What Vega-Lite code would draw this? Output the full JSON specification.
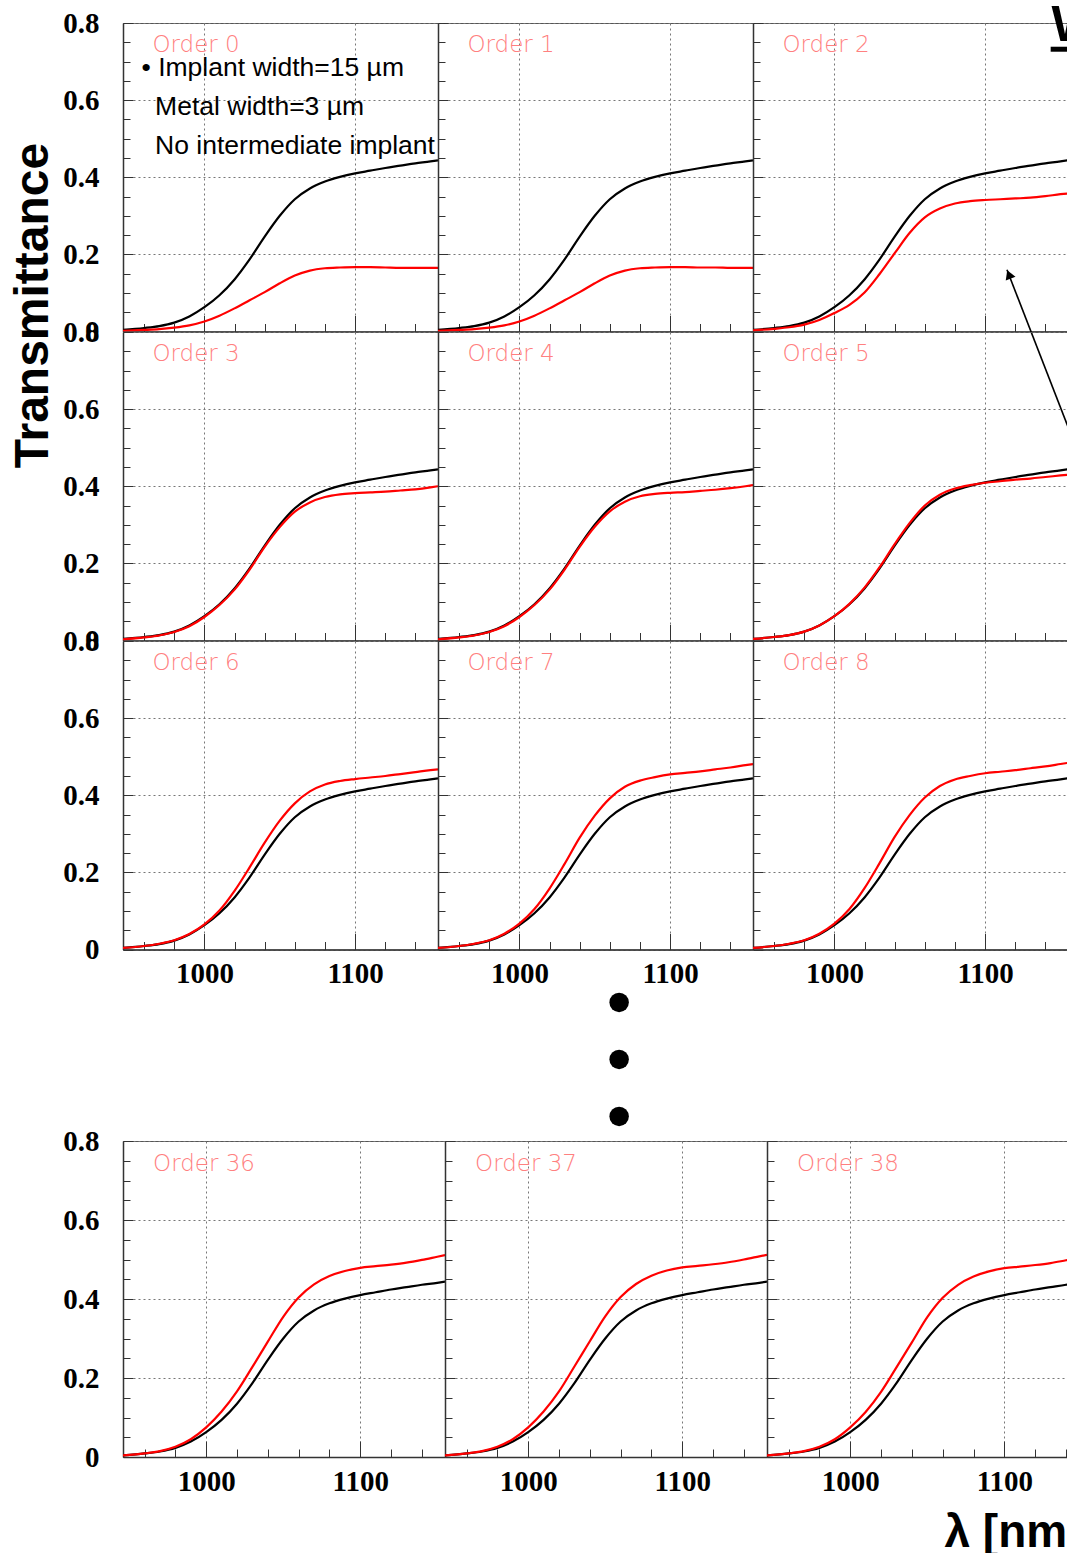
{
"$schema": "https://vega.github.io/schema/vega-lite/v6.json",
"background": "white",
"padding": {"left": 8, "top": 0, "right": 0, "bottom": 0},
"datasets": {
"ref": [{"wl":946,"t":0.004},{"wl":960,"t":0.009},{"wl":970,"t":0.014},{"wl":980,"t":0.023},{"wl":990,"t":0.039},{"wl":1000,"t":0.063},{"wl":1010,"t":0.094},{"wl":1020,"t":0.135},{"wl":1030,"t":0.187},{"wl":1040,"t":0.246},{"wl":1050,"t":0.300},{"wl":1060,"t":0.343},{"wl":1070,"t":0.371},{"wl":1080,"t":0.389},{"wl":1090,"t":0.401},{"wl":1100,"t":0.410},{"wl":1110,"t":0.417},{"wl":1120,"t":0.424},{"wl":1130,"t":0.430},{"wl":1140,"t":0.436},{"wl":1150,"t":0.441},{"wl":1155,"t":0.444}],
"sim": [
{"order":0,"wl":946,"t":0.002},{"order":0,"wl":960,"t":0.004},{"order":0,"wl":970,"t":0.006},{"order":0,"wl":980,"t":0.010},{"order":0,"wl":990,"t":0.016},{"order":0,"wl":1000,"t":0.026},{"order":0,"wl":1010,"t":0.041},{"order":0,"wl":1020,"t":0.060},{"order":0,"wl":1030,"t":0.081},{"order":0,"wl":1040,"t":0.102},{"order":0,"wl":1050,"t":0.125},{"order":0,"wl":1060,"t":0.145},{"order":0,"wl":1070,"t":0.158},{"order":0,"wl":1080,"t":0.164},{"order":0,"wl":1090,"t":0.166},{"order":0,"wl":1100,"t":0.167},{"order":0,"wl":1110,"t":0.167},{"order":0,"wl":1120,"t":0.166},{"order":0,"wl":1130,"t":0.165},{"order":0,"wl":1140,"t":0.165},{"order":0,"wl":1150,"t":0.165},{"order":0,"wl":1155,"t":0.165},
{"order":1,"wl":946,"t":0.002},{"order":1,"wl":960,"t":0.004},{"order":1,"wl":970,"t":0.006},{"order":1,"wl":980,"t":0.010},{"order":1,"wl":990,"t":0.016},{"order":1,"wl":1000,"t":0.026},{"order":1,"wl":1010,"t":0.041},{"order":1,"wl":1020,"t":0.060},{"order":1,"wl":1030,"t":0.081},{"order":1,"wl":1040,"t":0.102},{"order":1,"wl":1050,"t":0.125},{"order":1,"wl":1060,"t":0.145},{"order":1,"wl":1070,"t":0.158},{"order":1,"wl":1080,"t":0.164},{"order":1,"wl":1090,"t":0.166},{"order":1,"wl":1100,"t":0.167},{"order":1,"wl":1110,"t":0.167},{"order":1,"wl":1120,"t":0.166},{"order":1,"wl":1130,"t":0.166},{"order":1,"wl":1140,"t":0.165},{"order":1,"wl":1150,"t":0.165},{"order":1,"wl":1155,"t":0.165},
{"order":2,"wl":946,"t":0.003},{"order":2,"wl":960,"t":0.007},{"order":2,"wl":970,"t":0.011},{"order":2,"wl":980,"t":0.018},{"order":2,"wl":990,"t":0.030},{"order":2,"wl":1000,"t":0.048},{"order":2,"wl":1010,"t":0.069},{"order":2,"wl":1020,"t":0.101},{"order":2,"wl":1030,"t":0.149},{"order":2,"wl":1040,"t":0.203},{"order":2,"wl":1050,"t":0.256},{"order":2,"wl":1060,"t":0.296},{"order":2,"wl":1070,"t":0.319},{"order":2,"wl":1080,"t":0.332},{"order":2,"wl":1090,"t":0.338},{"order":2,"wl":1100,"t":0.341},{"order":2,"wl":1110,"t":0.343},{"order":2,"wl":1120,"t":0.345},{"order":2,"wl":1130,"t":0.347},{"order":2,"wl":1140,"t":0.351},{"order":2,"wl":1150,"t":0.356},{"order":2,"wl":1155,"t":0.358},
{"order":3,"wl":946,"t":0.003},{"order":3,"wl":960,"t":0.008},{"order":3,"wl":970,"t":0.013},{"order":3,"wl":980,"t":0.022},{"order":3,"wl":990,"t":0.037},{"order":3,"wl":1000,"t":0.061},{"order":3,"wl":1010,"t":0.092},{"order":3,"wl":1020,"t":0.132},{"order":3,"wl":1030,"t":0.184},{"order":3,"wl":1040,"t":0.243},{"order":3,"wl":1050,"t":0.294},{"order":3,"wl":1060,"t":0.334},{"order":3,"wl":1070,"t":0.358},{"order":3,"wl":1080,"t":0.372},{"order":3,"wl":1090,"t":0.379},{"order":3,"wl":1100,"t":0.382},{"order":3,"wl":1110,"t":0.384},{"order":3,"wl":1120,"t":0.386},{"order":3,"wl":1130,"t":0.389},{"order":3,"wl":1140,"t":0.392},{"order":3,"wl":1150,"t":0.397},{"order":3,"wl":1155,"t":0.400},
{"order":4,"wl":946,"t":0.003},{"order":4,"wl":960,"t":0.008},{"order":4,"wl":970,"t":0.013},{"order":4,"wl":980,"t":0.022},{"order":4,"wl":990,"t":0.037},{"order":4,"wl":1000,"t":0.061},{"order":4,"wl":1010,"t":0.092},{"order":4,"wl":1020,"t":0.132},{"order":4,"wl":1030,"t":0.184},{"order":4,"wl":1040,"t":0.243},{"order":4,"wl":1050,"t":0.295},{"order":4,"wl":1060,"t":0.335},{"order":4,"wl":1070,"t":0.360},{"order":4,"wl":1080,"t":0.374},{"order":4,"wl":1090,"t":0.380},{"order":4,"wl":1100,"t":0.383},{"order":4,"wl":1110,"t":0.385},{"order":4,"wl":1120,"t":0.388},{"order":4,"wl":1130,"t":0.391},{"order":4,"wl":1140,"t":0.395},{"order":4,"wl":1150,"t":0.400},{"order":4,"wl":1155,"t":0.403},
{"order":5,"wl":946,"t":0.004},{"order":5,"wl":960,"t":0.009},{"order":5,"wl":970,"t":0.014},{"order":5,"wl":980,"t":0.023},{"order":5,"wl":990,"t":0.039},{"order":5,"wl":1000,"t":0.063},{"order":5,"wl":1010,"t":0.095},{"order":5,"wl":1020,"t":0.137},{"order":5,"wl":1030,"t":0.190},{"order":5,"wl":1040,"t":0.250},{"order":5,"wl":1050,"t":0.305},{"order":5,"wl":1060,"t":0.350},{"order":5,"wl":1070,"t":0.378},{"order":5,"wl":1080,"t":0.394},{"order":5,"wl":1090,"t":0.403},{"order":5,"wl":1100,"t":0.409},{"order":5,"wl":1110,"t":0.413},{"order":5,"wl":1120,"t":0.417},{"order":5,"wl":1130,"t":0.420},{"order":5,"wl":1140,"t":0.424},{"order":5,"wl":1150,"t":0.428},{"order":5,"wl":1155,"t":0.430},
{"order":6,"wl":946,"t":0.004},{"order":6,"wl":960,"t":0.009},{"order":6,"wl":970,"t":0.015},{"order":6,"wl":980,"t":0.024},{"order":6,"wl":990,"t":0.040},{"order":6,"wl":1000,"t":0.065},{"order":6,"wl":1010,"t":0.101},{"order":6,"wl":1020,"t":0.152},{"order":6,"wl":1030,"t":0.213},{"order":6,"wl":1040,"t":0.277},{"order":6,"wl":1050,"t":0.334},{"order":6,"wl":1060,"t":0.379},{"order":6,"wl":1070,"t":0.410},{"order":6,"wl":1080,"t":0.428},{"order":6,"wl":1090,"t":0.437},{"order":6,"wl":1100,"t":0.442},{"order":6,"wl":1110,"t":0.446},{"order":6,"wl":1120,"t":0.450},{"order":6,"wl":1130,"t":0.455},{"order":6,"wl":1140,"t":0.460},{"order":6,"wl":1150,"t":0.465},{"order":6,"wl":1155,"t":0.467},
{"order":7,"wl":946,"t":0.004},{"order":7,"wl":960,"t":0.009},{"order":7,"wl":970,"t":0.015},{"order":7,"wl":980,"t":0.024},{"order":7,"wl":990,"t":0.041},{"order":7,"wl":1000,"t":0.067},{"order":7,"wl":1010,"t":0.105},{"order":7,"wl":1020,"t":0.158},{"order":7,"wl":1030,"t":0.222},{"order":7,"wl":1040,"t":0.290},{"order":7,"wl":1050,"t":0.347},{"order":7,"wl":1060,"t":0.392},{"order":7,"wl":1070,"t":0.422},{"order":7,"wl":1080,"t":0.438},{"order":7,"wl":1090,"t":0.447},{"order":7,"wl":1100,"t":0.454},{"order":7,"wl":1110,"t":0.458},{"order":7,"wl":1120,"t":0.462},{"order":7,"wl":1130,"t":0.467},{"order":7,"wl":1140,"t":0.472},{"order":7,"wl":1150,"t":0.478},{"order":7,"wl":1155,"t":0.481},
{"order":8,"wl":946,"t":0.004},{"order":8,"wl":960,"t":0.009},{"order":8,"wl":970,"t":0.015},{"order":8,"wl":980,"t":0.024},{"order":8,"wl":990,"t":0.041},{"order":8,"wl":1000,"t":0.067},{"order":8,"wl":1010,"t":0.105},{"order":8,"wl":1020,"t":0.159},{"order":8,"wl":1030,"t":0.224},{"order":8,"wl":1040,"t":0.292},{"order":8,"wl":1050,"t":0.349},{"order":8,"wl":1060,"t":0.394},{"order":8,"wl":1070,"t":0.424},{"order":8,"wl":1080,"t":0.441},{"order":8,"wl":1090,"t":0.450},{"order":8,"wl":1100,"t":0.457},{"order":8,"wl":1110,"t":0.461},{"order":8,"wl":1120,"t":0.465},{"order":8,"wl":1130,"t":0.470},{"order":8,"wl":1140,"t":0.475},{"order":8,"wl":1150,"t":0.481},{"order":8,"wl":1155,"t":0.484},
{"order":36,"wl":946,"t":0.004},{"order":36,"wl":960,"t":0.009},{"order":36,"wl":970,"t":0.015},{"order":36,"wl":980,"t":0.026},{"order":36,"wl":990,"t":0.045},{"order":36,"wl":1000,"t":0.075},{"order":36,"wl":1010,"t":0.115},{"order":36,"wl":1020,"t":0.166},{"order":36,"wl":1030,"t":0.228},{"order":36,"wl":1040,"t":0.292},{"order":36,"wl":1050,"t":0.355},{"order":36,"wl":1060,"t":0.404},{"order":36,"wl":1070,"t":0.437},{"order":36,"wl":1080,"t":0.458},{"order":36,"wl":1090,"t":0.471},{"order":36,"wl":1100,"t":0.479},{"order":36,"wl":1110,"t":0.483},{"order":36,"wl":1120,"t":0.487},{"order":36,"wl":1130,"t":0.492},{"order":36,"wl":1140,"t":0.499},{"order":36,"wl":1150,"t":0.507},{"order":36,"wl":1155,"t":0.511},
{"order":37,"wl":946,"t":0.004},{"order":37,"wl":960,"t":0.009},{"order":37,"wl":970,"t":0.015},{"order":37,"wl":980,"t":0.026},{"order":37,"wl":990,"t":0.045},{"order":37,"wl":1000,"t":0.075},{"order":37,"wl":1010,"t":0.115},{"order":37,"wl":1020,"t":0.166},{"order":37,"wl":1030,"t":0.229},{"order":37,"wl":1040,"t":0.293},{"order":37,"wl":1050,"t":0.356},{"order":37,"wl":1060,"t":0.405},{"order":37,"wl":1070,"t":0.438},{"order":37,"wl":1080,"t":0.459},{"order":37,"wl":1090,"t":0.472},{"order":37,"wl":1100,"t":0.480},{"order":37,"wl":1110,"t":0.484},{"order":37,"wl":1120,"t":0.488},{"order":37,"wl":1130,"t":0.493},{"order":37,"wl":1140,"t":0.500},{"order":37,"wl":1150,"t":0.508},{"order":37,"wl":1155,"t":0.512},
{"order":38,"wl":946,"t":0.004},{"order":38,"wl":960,"t":0.009},{"order":38,"wl":970,"t":0.015},{"order":38,"wl":980,"t":0.026},{"order":38,"wl":990,"t":0.045},{"order":38,"wl":1000,"t":0.075},{"order":38,"wl":1010,"t":0.114},{"order":38,"wl":1020,"t":0.165},{"order":38,"wl":1030,"t":0.227},{"order":38,"wl":1040,"t":0.290},{"order":38,"wl":1050,"t":0.354},{"order":38,"wl":1060,"t":0.403},{"order":38,"wl":1070,"t":0.436},{"order":38,"wl":1080,"t":0.457},{"order":38,"wl":1090,"t":0.470},{"order":38,"wl":1100,"t":0.478},{"order":38,"wl":1110,"t":0.482},{"order":38,"wl":1120,"t":0.486},{"order":38,"wl":1130,"t":0.491},{"order":38,"wl":1140,"t":0.498},{"order":38,"wl":1150,"t":0.505},{"order":38,"wl":1155,"t":0.509}
],
"labels": [{"order":0,"label":"Order 0"},{"order":1,"label":"Order 1"},{"order":2,"label":"Order 2"},{"order":3,"label":"Order 3"},{"order":4,"label":"Order 4"},{"order":5,"label":"Order 5"},{"order":6,"label":"Order 6"},{"order":7,"label":"Order 7"},{"order":8,"label":"Order 8"},{"order":36,"label":"Order 36"},{"order":37,"label":"Order 37"},{"order":38,"label":"Order 38"}]
},
"bounds": "flush",
"spacing": 1118,
"vconcat": [
{"columns": 3, "bounds": "flush", "spacing": 0,
 "concat": [
{"width":315,"height":308.5,"resolve":{"axis":{"x":"independent","y":"independent"}},"layer":[
  {"data":{"name":"ref"},"mark":{"type":"line","color":"#000","strokeWidth":2.2,"interpolate":"monotone","clip":true},
   "encoding":{"x":{"field":"wl","type":"quantitative","scale":{"domain":[946,1155],"nice":false,"zero":false},"axis":{"values":[960,980,1000,1020,1040,1060,1080,1100,1120,1140],"labels":false,"tickSize":{"condition":{"test":"datum.value % 100 == 0","value":-16},"value":-8},"grid":true,"gridOpacity":{"condition":{"test":"datum.value % 100 == 0","value":1},"value":0},"title":null}},
    "y":{"field":"t","type":"quantitative","scale":{"domain":[0,0.8],"nice":false},"axis":{"values":[0,0.05,0.1,0.15,0.2,0.25,0.3,0.35,0.4,0.45,0.5,0.55,0.6,0.65,0.7,0.75,0.8],"labelExpr":"round(datum.value*100) % 20 == 0 ? format(datum.value, '.1~f') : ''","tickSize":{"condition":{"test":"round(datum.value*100) % 20 == 0","value":-10},"value":-7},"grid":true,"gridOpacity":{"condition":{"test":"round(datum.value*100) % 20 == 0","value":1},"value":0},"labelPadding":34,"title":"Transmittance","titleFont":"Liberation Sans","titleFontWeight":"bold","titleFontSize":48,"titleColor":"#000","titleX":-76,"titleY":282,"titleAngle":-90,"titleAlign":"center","titleBaseline":"alphabetic"}}}},
  {"data":{"name":"sim"},"transform":[{"filter":"datum.order == 0"}],"mark":{"type":"line","color":"#ff0000","strokeWidth":2.2,"interpolate":"monotone","clip":true},"encoding":{"x":{"field":"wl","type":"quantitative","axis":null},"y":{"field":"t","type":"quantitative","axis":null}}},
  {"data":{"name":"labels"},"transform":[{"filter":"datum.order == 0"}],"mark":{"type":"text","font":"DejaVu Sans","fontSize":23,"fontWeight":300,"color":"#ff8080","align":"left","baseline":"middle"},"encoding":{"x":{"datum":965.5,"axis":null},"y":{"datum":0.743,"axis":null},"text":{"field":"label"}}},
  {"data":{"values":[{"note":"• Implant width=15 µm"}]},"mark":{"type":"text","font":"Liberation Sans","fontSize":26.5,"color":"#000","align":"left","baseline":"middle","clip":false},"encoding":{"x":{"datum":958.3,"axis":null},"y":{"datum":0.683,"axis":null},"text":{"field":"note"}}},
  {"data":{"values":[{"note":"Metal width=3 µm"}]},"mark":{"type":"text","font":"Liberation Sans","fontSize":26.5,"color":"#000","align":"left","baseline":"middle","clip":false},"encoding":{"x":{"datum":967.3,"axis":null},"y":{"datum":0.582,"axis":null},"text":{"field":"note"}}},
  {"data":{"values":[{"note":"No intermediate implant"}]},"mark":{"type":"text","font":"Liberation Sans","fontSize":26.5,"color":"#000","align":"left","baseline":"middle","clip":false},"encoding":{"x":{"datum":967.3,"axis":null},"y":{"datum":0.481,"axis":null},"text":{"field":"note"}}}
 ]},
{"width":315,"height":308.5,"resolve":{"axis":{"x":"independent","y":"independent"}},"layer":[
  {"data":{"name":"ref"},"mark":{"type":"line","color":"#000","strokeWidth":2.2,"interpolate":"monotone","clip":true},
   "encoding":{"x":{"field":"wl","type":"quantitative","scale":{"domain":[946,1155],"nice":false,"zero":false},"axis":{"values":[960,980,1000,1020,1040,1060,1080,1100,1120,1140],"labels":false,"tickSize":{"condition":{"test":"datum.value % 100 == 0","value":-16},"value":-8},"grid":true,"gridOpacity":{"condition":{"test":"datum.value % 100 == 0","value":1},"value":0},"title":null}},
    "y":{"field":"t","type":"quantitative","scale":{"domain":[0,0.8],"nice":false},"axis":{"values":[0,0.05,0.1,0.15,0.2,0.25,0.3,0.35,0.4,0.45,0.5,0.55,0.6,0.65,0.7,0.75,0.8],"labels":false,"tickSize":{"condition":{"test":"round(datum.value*100) % 20 == 0","value":-10},"value":-7},"grid":true,"gridOpacity":{"condition":{"test":"round(datum.value*100) % 20 == 0","value":1},"value":0},"title":null}}}},
  {"data":{"name":"sim"},"transform":[{"filter":"datum.order == 1"}],"mark":{"type":"line","color":"#ff0000","strokeWidth":2.2,"interpolate":"monotone","clip":true},"encoding":{"x":{"field":"wl","type":"quantitative","axis":null},"y":{"field":"t","type":"quantitative","axis":null}}},
  {"data":{"name":"labels"},"transform":[{"filter":"datum.order == 1"}],"mark":{"type":"text","font":"DejaVu Sans","fontSize":23,"fontWeight":300,"color":"#ff8080","align":"left","baseline":"middle"},"encoding":{"x":{"datum":965.5,"axis":null},"y":{"datum":0.743,"axis":null},"text":{"field":"label"}}}
 ]},
{"width":315,"height":308.5,"resolve":{"axis":{"x":"independent","y":"independent"}},"layer":[
  {"data":{"name":"ref"},"mark":{"type":"line","color":"#000","strokeWidth":2.2,"interpolate":"monotone","clip":true},
   "encoding":{"x":{"field":"wl","type":"quantitative","scale":{"domain":[946,1155],"nice":false,"zero":false},"axis":{"values":[960,980,1000,1020,1040,1060,1080,1100,1120,1140],"labels":false,"tickSize":{"condition":{"test":"datum.value % 100 == 0","value":-16},"value":-8},"grid":true,"gridOpacity":{"condition":{"test":"datum.value % 100 == 0","value":1},"value":0},"title":null}},
    "y":{"field":"t","type":"quantitative","scale":{"domain":[0,0.8],"nice":false},"axis":{"values":[0,0.05,0.1,0.15,0.2,0.25,0.3,0.35,0.4,0.45,0.5,0.55,0.6,0.65,0.7,0.75,0.8],"labels":false,"tickSize":{"condition":{"test":"round(datum.value*100) % 20 == 0","value":-10},"value":-7},"grid":true,"gridOpacity":{"condition":{"test":"round(datum.value*100) % 20 == 0","value":1},"value":0},"title":null}}}},
  {"data":{"name":"sim"},"transform":[{"filter":"datum.order == 2"}],"mark":{"type":"line","color":"#ff0000","strokeWidth":2.2,"interpolate":"monotone","clip":true},"encoding":{"x":{"field":"wl","type":"quantitative","axis":null},"y":{"field":"t","type":"quantitative","axis":null}}},
  {"data":{"name":"labels"},"transform":[{"filter":"datum.order == 2"}],"mark":{"type":"text","font":"DejaVu Sans","fontSize":23,"fontWeight":300,"color":"#ff8080","align":"left","baseline":"middle"},"encoding":{"x":{"datum":965.5,"axis":null},"y":{"datum":0.743,"axis":null},"text":{"field":"label"}}},
  {"data":{"values":[{"note":"W"}]},"mark":{"type":"text","font":"Liberation Sans","fontWeight":"bold","fontSize":50,"color":"#000","align":"left","baseline":"alphabetic","clip":false},"encoding":{"x":{"datum":1144,"axis":null},"y":{"datum":0.7532,"axis":null},"text":{"field":"note"}}},
  {"data":{"values":[{"note":"underline"}]},"mark":{"type":"rule","color":"#000","strokeWidth":5,"clip":false},"encoding":{"x":{"datum":1143.5,"axis":null},"x2":{"datum":1157},"y":{"datum":0.732,"axis":null}}},
  {"data":{"values":[{"note":"arrow"}]},"mark":{"type":"rule","color":"#000","strokeWidth":1.6,"clip":false},"encoding":{"x":{"datum":1155,"axis":null},"y":{"datum":-0.247,"axis":null},"x2":{"datum":1114.5},"y2":{"datum":0.16}}},
  {"data":{"values":[{"note":"arrowhead"}]},"mark":{"type":"point","shape":"triangle-up","filled":true,"color":"#000","opacity":1,"size":110,"angle":-22,"clip":false},"encoding":{"x":{"datum":1115.8,"axis":null},"y":{"datum":0.148,"axis":null}}}
 ]},
{"width":315,"height":308.5,"resolve":{"axis":{"x":"independent","y":"independent"}},"layer":[
  {"data":{"name":"ref"},"mark":{"type":"line","color":"#000","strokeWidth":2.2,"interpolate":"monotone","clip":true},
   "encoding":{"x":{"field":"wl","type":"quantitative","scale":{"domain":[946,1155],"nice":false,"zero":false},"axis":{"values":[960,980,1000,1020,1040,1060,1080,1100,1120,1140],"labels":false,"tickSize":{"condition":{"test":"datum.value % 100 == 0","value":-16},"value":-8},"grid":true,"gridOpacity":{"condition":{"test":"datum.value % 100 == 0","value":1},"value":0},"title":null}},
    "y":{"field":"t","type":"quantitative","scale":{"domain":[0,0.8],"nice":false},"axis":{"values":[0,0.05,0.1,0.15,0.2,0.25,0.3,0.35,0.4,0.45,0.5,0.55,0.6,0.65,0.7,0.75,0.8],"labelExpr":"round(datum.value*100) % 20 == 0 ? format(datum.value, '.1~f') : ''","tickSize":{"condition":{"test":"round(datum.value*100) % 20 == 0","value":-10},"value":-7},"grid":true,"gridOpacity":{"condition":{"test":"round(datum.value*100) % 20 == 0","value":1},"value":0},"labelPadding":34,"title":null}}}},
  {"data":{"name":"sim"},"transform":[{"filter":"datum.order == 3"}],"mark":{"type":"line","color":"#ff0000","strokeWidth":2.2,"interpolate":"monotone","clip":true},"encoding":{"x":{"field":"wl","type":"quantitative","axis":null},"y":{"field":"t","type":"quantitative","axis":null}}},
  {"data":{"name":"labels"},"transform":[{"filter":"datum.order == 3"}],"mark":{"type":"text","font":"DejaVu Sans","fontSize":23,"fontWeight":300,"color":"#ff8080","align":"left","baseline":"middle"},"encoding":{"x":{"datum":965.5,"axis":null},"y":{"datum":0.743,"axis":null},"text":{"field":"label"}}}
 ]},
{"width":315,"height":308.5,"resolve":{"axis":{"x":"independent","y":"independent"}},"layer":[
  {"data":{"name":"ref"},"mark":{"type":"line","color":"#000","strokeWidth":2.2,"interpolate":"monotone","clip":true},
   "encoding":{"x":{"field":"wl","type":"quantitative","scale":{"domain":[946,1155],"nice":false,"zero":false},"axis":{"values":[960,980,1000,1020,1040,1060,1080,1100,1120,1140],"labels":false,"tickSize":{"condition":{"test":"datum.value % 100 == 0","value":-16},"value":-8},"grid":true,"gridOpacity":{"condition":{"test":"datum.value % 100 == 0","value":1},"value":0},"title":null}},
    "y":{"field":"t","type":"quantitative","scale":{"domain":[0,0.8],"nice":false},"axis":{"values":[0,0.05,0.1,0.15,0.2,0.25,0.3,0.35,0.4,0.45,0.5,0.55,0.6,0.65,0.7,0.75,0.8],"labels":false,"tickSize":{"condition":{"test":"round(datum.value*100) % 20 == 0","value":-10},"value":-7},"grid":true,"gridOpacity":{"condition":{"test":"round(datum.value*100) % 20 == 0","value":1},"value":0},"title":null}}}},
  {"data":{"name":"sim"},"transform":[{"filter":"datum.order == 4"}],"mark":{"type":"line","color":"#ff0000","strokeWidth":2.2,"interpolate":"monotone","clip":true},"encoding":{"x":{"field":"wl","type":"quantitative","axis":null},"y":{"field":"t","type":"quantitative","axis":null}}},
  {"data":{"name":"labels"},"transform":[{"filter":"datum.order == 4"}],"mark":{"type":"text","font":"DejaVu Sans","fontSize":23,"fontWeight":300,"color":"#ff8080","align":"left","baseline":"middle"},"encoding":{"x":{"datum":965.5,"axis":null},"y":{"datum":0.743,"axis":null},"text":{"field":"label"}}}
 ]},
{"width":315,"height":308.5,"resolve":{"axis":{"x":"independent","y":"independent"}},"layer":[
  {"data":{"name":"ref"},"mark":{"type":"line","color":"#000","strokeWidth":2.2,"interpolate":"monotone","clip":true},
   "encoding":{"x":{"field":"wl","type":"quantitative","scale":{"domain":[946,1155],"nice":false,"zero":false},"axis":{"values":[960,980,1000,1020,1040,1060,1080,1100,1120,1140],"labels":false,"tickSize":{"condition":{"test":"datum.value % 100 == 0","value":-16},"value":-8},"grid":true,"gridOpacity":{"condition":{"test":"datum.value % 100 == 0","value":1},"value":0},"title":null}},
    "y":{"field":"t","type":"quantitative","scale":{"domain":[0,0.8],"nice":false},"axis":{"values":[0,0.05,0.1,0.15,0.2,0.25,0.3,0.35,0.4,0.45,0.5,0.55,0.6,0.65,0.7,0.75,0.8],"labels":false,"tickSize":{"condition":{"test":"round(datum.value*100) % 20 == 0","value":-10},"value":-7},"grid":true,"gridOpacity":{"condition":{"test":"round(datum.value*100) % 20 == 0","value":1},"value":0},"title":null}}}},
  {"data":{"name":"sim"},"transform":[{"filter":"datum.order == 5"}],"mark":{"type":"line","color":"#ff0000","strokeWidth":2.2,"interpolate":"monotone","clip":true},"encoding":{"x":{"field":"wl","type":"quantitative","axis":null},"y":{"field":"t","type":"quantitative","axis":null}}},
  {"data":{"name":"labels"},"transform":[{"filter":"datum.order == 5"}],"mark":{"type":"text","font":"DejaVu Sans","fontSize":23,"fontWeight":300,"color":"#ff8080","align":"left","baseline":"middle"},"encoding":{"x":{"datum":965.5,"axis":null},"y":{"datum":0.743,"axis":null},"text":{"field":"label"}}}
 ]},
{"width":315,"height":308.5,"resolve":{"axis":{"x":"independent","y":"independent"}},"layer":[
  {"data":{"name":"ref"},"mark":{"type":"line","color":"#000","strokeWidth":2.2,"interpolate":"monotone","clip":true},
   "encoding":{"x":{"field":"wl","type":"quantitative","scale":{"domain":[946,1155],"nice":false,"zero":false},"axis":{"values":[960,980,1000,1020,1040,1060,1080,1100,1120,1140],"labelExpr":"datum.value % 100 == 0 ? format(datum.value, 'd') : ''","tickSize":{"condition":{"test":"datum.value % 100 == 0","value":-16},"value":-8},"grid":true,"gridOpacity":{"condition":{"test":"datum.value % 100 == 0","value":1},"value":0},"labelPadding":26,"title":null}},
    "y":{"field":"t","type":"quantitative","scale":{"domain":[0,0.8],"nice":false},"axis":{"values":[0,0.05,0.1,0.15,0.2,0.25,0.3,0.35,0.4,0.45,0.5,0.55,0.6,0.65,0.7,0.75,0.8],"labelExpr":"round(datum.value*100) % 20 == 0 ? format(datum.value, '.1~f') : ''","tickSize":{"condition":{"test":"round(datum.value*100) % 20 == 0","value":-10},"value":-7},"grid":true,"gridOpacity":{"condition":{"test":"round(datum.value*100) % 20 == 0","value":1},"value":0},"labelPadding":34,"title":null}}}},
  {"data":{"name":"sim"},"transform":[{"filter":"datum.order == 6"}],"mark":{"type":"line","color":"#ff0000","strokeWidth":2.2,"interpolate":"monotone","clip":true},"encoding":{"x":{"field":"wl","type":"quantitative","axis":null},"y":{"field":"t","type":"quantitative","axis":null}}},
  {"data":{"name":"labels"},"transform":[{"filter":"datum.order == 6"}],"mark":{"type":"text","font":"DejaVu Sans","fontSize":23,"fontWeight":300,"color":"#ff8080","align":"left","baseline":"middle"},"encoding":{"x":{"datum":965.5,"axis":null},"y":{"datum":0.743,"axis":null},"text":{"field":"label"}}}
 ]},
{"width":315,"height":308.5,"resolve":{"axis":{"x":"independent","y":"independent"}},"layer":[
  {"data":{"name":"ref"},"mark":{"type":"line","color":"#000","strokeWidth":2.2,"interpolate":"monotone","clip":true},
   "encoding":{"x":{"field":"wl","type":"quantitative","scale":{"domain":[946,1155],"nice":false,"zero":false},"axis":{"values":[960,980,1000,1020,1040,1060,1080,1100,1120,1140],"labelExpr":"datum.value % 100 == 0 ? format(datum.value, 'd') : ''","tickSize":{"condition":{"test":"datum.value % 100 == 0","value":-16},"value":-8},"grid":true,"gridOpacity":{"condition":{"test":"datum.value % 100 == 0","value":1},"value":0},"labelPadding":26,"title":null}},
    "y":{"field":"t","type":"quantitative","scale":{"domain":[0,0.8],"nice":false},"axis":{"values":[0,0.05,0.1,0.15,0.2,0.25,0.3,0.35,0.4,0.45,0.5,0.55,0.6,0.65,0.7,0.75,0.8],"labels":false,"tickSize":{"condition":{"test":"round(datum.value*100) % 20 == 0","value":-10},"value":-7},"grid":true,"gridOpacity":{"condition":{"test":"round(datum.value*100) % 20 == 0","value":1},"value":0},"title":null}}}},
  {"data":{"name":"sim"},"transform":[{"filter":"datum.order == 7"}],"mark":{"type":"line","color":"#ff0000","strokeWidth":2.2,"interpolate":"monotone","clip":true},"encoding":{"x":{"field":"wl","type":"quantitative","axis":null},"y":{"field":"t","type":"quantitative","axis":null}}},
  {"data":{"name":"labels"},"transform":[{"filter":"datum.order == 7"}],"mark":{"type":"text","font":"DejaVu Sans","fontSize":23,"fontWeight":300,"color":"#ff8080","align":"left","baseline":"middle"},"encoding":{"x":{"datum":965.5,"axis":null},"y":{"datum":0.743,"axis":null},"text":{"field":"label"}}}
 ]},
{"width":315,"height":308.5,"resolve":{"axis":{"x":"independent","y":"independent"}},"layer":[
  {"data":{"name":"ref"},"mark":{"type":"line","color":"#000","strokeWidth":2.2,"interpolate":"monotone","clip":true},
   "encoding":{"x":{"field":"wl","type":"quantitative","scale":{"domain":[946,1155],"nice":false,"zero":false},"axis":{"values":[960,980,1000,1020,1040,1060,1080,1100,1120,1140],"labelExpr":"datum.value % 100 == 0 ? format(datum.value, 'd') : ''","tickSize":{"condition":{"test":"datum.value % 100 == 0","value":-16},"value":-8},"grid":true,"gridOpacity":{"condition":{"test":"datum.value % 100 == 0","value":1},"value":0},"labelPadding":26,"title":null}},
    "y":{"field":"t","type":"quantitative","scale":{"domain":[0,0.8],"nice":false},"axis":{"values":[0,0.05,0.1,0.15,0.2,0.25,0.3,0.35,0.4,0.45,0.5,0.55,0.6,0.65,0.7,0.75,0.8],"labels":false,"tickSize":{"condition":{"test":"round(datum.value*100) % 20 == 0","value":-10},"value":-7},"grid":true,"gridOpacity":{"condition":{"test":"round(datum.value*100) % 20 == 0","value":1},"value":0},"title":null}}}},
  {"data":{"name":"sim"},"transform":[{"filter":"datum.order == 8"}],"mark":{"type":"line","color":"#ff0000","strokeWidth":2.2,"interpolate":"monotone","clip":true},"encoding":{"x":{"field":"wl","type":"quantitative","axis":null},"y":{"field":"t","type":"quantitative","axis":null}}},
  {"data":{"name":"labels"},"transform":[{"filter":"datum.order == 8"}],"mark":{"type":"text","font":"DejaVu Sans","fontSize":23,"fontWeight":300,"color":"#ff8080","align":"left","baseline":"middle"},"encoding":{"x":{"datum":965.5,"axis":null},"y":{"datum":0.743,"axis":null},"text":{"field":"label"}}}
 ]},
{"width":315,"height":191.5,"view":{"stroke":null},"data":{"values":[]},"mark":"point"},
{"width":315,"height":191.5,"view":{"stroke":null},"data":{"values":[{"i":1},{"i":2},{"i":3}]},"mark":{"type":"point","filled":true,"color":"#000","opacity":1,"size":380},
 "encoding":{"x":{"datum":0.575,"type":"quantitative","scale":{"domain":[0,1],"nice":false,"zero":false},"axis":null},"y":{"field":"i","type":"quantitative","scale":{"domain":[0.08,3.44],"reverse":true,"nice":false,"zero":false},"axis":null}}},
{"width":315,"height":191.5,"view":{"stroke":null},"data":{"values":[]},"mark":"point"}
 ]},
{"hconcat": [
{"width":322,"height":316,"resolve":{"axis":{"x":"independent","y":"independent"}},"layer":[
  {"data":{"name":"ref"},"mark":{"type":"line","color":"#000","strokeWidth":2.2,"interpolate":"monotone","clip":true},
   "encoding":{"x":{"field":"wl","type":"quantitative","scale":{"domain":[946,1155],"nice":false,"zero":false},"axis":{"values":[960,980,1000,1020,1040,1060,1080,1100,1120,1140],"labelExpr":"datum.value % 100 == 0 ? format(datum.value, 'd') : ''","tickSize":{"condition":{"test":"datum.value % 100 == 0","value":-16},"value":-8},"grid":true,"gridOpacity":{"condition":{"test":"datum.value % 100 == 0","value":1},"value":0},"labelPadding":26,"title":null}},
    "y":{"field":"t","type":"quantitative","scale":{"domain":[0,0.8],"nice":false},"axis":{"values":[0,0.05,0.1,0.15,0.2,0.25,0.3,0.35,0.4,0.45,0.5,0.55,0.6,0.65,0.7,0.75,0.8],"labelExpr":"round(datum.value*100) % 20 == 0 ? format(datum.value, '.1~f') : ''","tickSize":{"condition":{"test":"round(datum.value*100) % 20 == 0","value":-10},"value":-7},"grid":true,"gridOpacity":{"condition":{"test":"round(datum.value*100) % 20 == 0","value":1},"value":0},"labelPadding":34,"title":null}}}},
  {"data":{"name":"sim"},"transform":[{"filter":"datum.order == 36"}],"mark":{"type":"line","color":"#ff0000","strokeWidth":2.2,"interpolate":"monotone","clip":true},"encoding":{"x":{"field":"wl","type":"quantitative","axis":null},"y":{"field":"t","type":"quantitative","axis":null}}},
  {"data":{"name":"labels"},"transform":[{"filter":"datum.order == 36"}],"mark":{"type":"text","font":"DejaVu Sans","fontSize":23,"fontWeight":300,"color":"#ff8080","align":"left","baseline":"middle"},"encoding":{"x":{"datum":965.5,"axis":null},"y":{"datum":0.743,"axis":null},"text":{"field":"label"}}}
 ]},
{"width":322,"height":316,"resolve":{"axis":{"x":"independent","y":"independent"}},"layer":[
  {"data":{"name":"ref"},"mark":{"type":"line","color":"#000","strokeWidth":2.2,"interpolate":"monotone","clip":true},
   "encoding":{"x":{"field":"wl","type":"quantitative","scale":{"domain":[946,1155],"nice":false,"zero":false},"axis":{"values":[960,980,1000,1020,1040,1060,1080,1100,1120,1140],"labelExpr":"datum.value % 100 == 0 ? format(datum.value, 'd') : ''","tickSize":{"condition":{"test":"datum.value % 100 == 0","value":-16},"value":-8},"grid":true,"gridOpacity":{"condition":{"test":"datum.value % 100 == 0","value":1},"value":0},"labelPadding":26,"title":null}},
    "y":{"field":"t","type":"quantitative","scale":{"domain":[0,0.8],"nice":false},"axis":{"values":[0,0.05,0.1,0.15,0.2,0.25,0.3,0.35,0.4,0.45,0.5,0.55,0.6,0.65,0.7,0.75,0.8],"labels":false,"tickSize":{"condition":{"test":"round(datum.value*100) % 20 == 0","value":-10},"value":-7},"grid":true,"gridOpacity":{"condition":{"test":"round(datum.value*100) % 20 == 0","value":1},"value":0},"title":null}}}},
  {"data":{"name":"sim"},"transform":[{"filter":"datum.order == 37"}],"mark":{"type":"line","color":"#ff0000","strokeWidth":2.2,"interpolate":"monotone","clip":true},"encoding":{"x":{"field":"wl","type":"quantitative","axis":null},"y":{"field":"t","type":"quantitative","axis":null}}},
  {"data":{"name":"labels"},"transform":[{"filter":"datum.order == 37"}],"mark":{"type":"text","font":"DejaVu Sans","fontSize":23,"fontWeight":300,"color":"#ff8080","align":"left","baseline":"middle"},"encoding":{"x":{"datum":965.5,"axis":null},"y":{"datum":0.743,"axis":null},"text":{"field":"label"}}}
 ]},
{"width":301,"height":316,"resolve":{"axis":{"x":"independent","y":"independent"}},"layer":[
  {"data":{"name":"ref"},"mark":{"type":"line","color":"#000","strokeWidth":2.2,"interpolate":"monotone","clip":true},
   "encoding":{"x":{"field":"wl","type":"quantitative","scale":{"domain":[946,1141.3],"nice":false,"zero":false},"axis":{"values":[960,980,1000,1020,1040,1060,1080,1100,1120,1140],"labelExpr":"datum.value % 100 == 0 ? format(datum.value, 'd') : ''","tickSize":{"condition":{"test":"datum.value % 100 == 0","value":-16},"value":-8},"grid":true,"gridOpacity":{"condition":{"test":"datum.value % 100 == 0","value":1},"value":0},"labelPadding":26,"title":"λ [nm]","titleFont":"Liberation Sans","titleFontWeight":"bold","titleFontSize":46,"titleColor":"#000","titleX":177,"titleY":89,"titleAlign":"left","titleBaseline":"alphabetic"}},
    "y":{"field":"t","type":"quantitative","scale":{"domain":[0,0.8],"nice":false},"axis":{"values":[0,0.05,0.1,0.15,0.2,0.25,0.3,0.35,0.4,0.45,0.5,0.55,0.6,0.65,0.7,0.75,0.8],"labels":false,"tickSize":{"condition":{"test":"round(datum.value*100) % 20 == 0","value":-10},"value":-7},"grid":true,"gridOpacity":{"condition":{"test":"round(datum.value*100) % 20 == 0","value":1},"value":0},"title":null}}}},
  {"data":{"name":"sim"},"transform":[{"filter":"datum.order == 38"}],"mark":{"type":"line","color":"#ff0000","strokeWidth":2.2,"interpolate":"monotone","clip":true},"encoding":{"x":{"field":"wl","type":"quantitative","axis":null},"y":{"field":"t","type":"quantitative","axis":null}}},
  {"data":{"name":"labels"},"transform":[{"filter":"datum.order == 38"}],"mark":{"type":"text","font":"DejaVu Sans","fontSize":23,"fontWeight":300,"color":"#ff8080","align":"left","baseline":"middle"},"encoding":{"x":{"datum":965.5,"axis":null},"y":{"datum":0.743,"axis":null},"text":{"field":"label"}}}
 ]}
], "spacing": 0, "bounds": "flush"}
],
"config": {
 "view": {"stroke": "#555", "strokeWidth": 1},
 "axis": {"domainColor": "#333", "domainWidth": 1.5, "tickColor": "#333", "tickWidth": 1, "gridColor": "#777", "gridDash": [2, 3], "gridWidth": 1, "labelFont": "Liberation Serif", "labelFontWeight": "bold", "labelFontSize": 29, "labelColor": "#000", "labelOverlap": false, "labelFlush": false, "labelBound": false}
}
}
